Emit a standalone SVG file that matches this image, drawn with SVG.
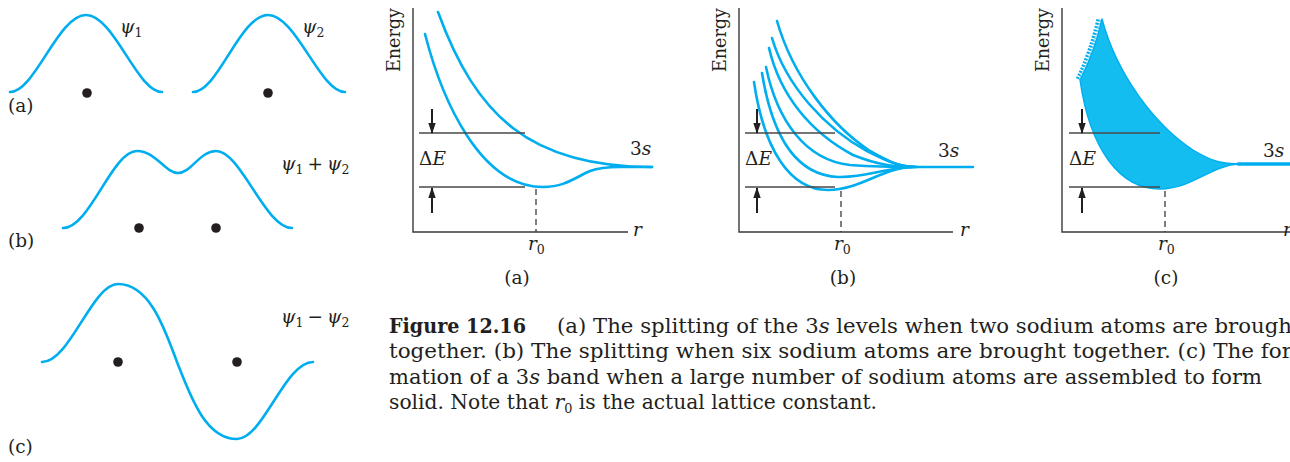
<svg xmlns="http://www.w3.org/2000/svg" width="1290" height="462" viewBox="0 0 1290 462">
<defs>
<style>
.c{fill:none;stroke:#00AEEF;stroke-width:2.6;stroke-linecap:round;stroke-linejoin:round}
.dot{fill:#231f20}
.ax{fill:none;stroke:#3a3a3a;stroke-width:1.4}
.lv{fill:none;stroke:#4a4a4a;stroke-width:1.4}
.ds{fill:none;stroke:#3a3a3a;stroke-width:1.3;stroke-dasharray:6 4}
.ar{fill:none;stroke:#231f20;stroke-width:2;marker-end:url(#ah)}
text{font-family:"DejaVu Serif","Liberation Serif",serif;fill:#231f20}
.lb{font-size:18.5px}
.en{font-size:18.5px}
.it{font-style:italic}
.sub{font-size:12.5px;font-style:normal}
.cap{font-size:20.5px}
</style>
<marker id="ah" markerWidth="11" markerHeight="10" refX="10" refY="5" orient="auto" markerUnits="userSpaceOnUse">
<path d="M0,1.3 L11,5 L0,8.7 Z" fill="#231f20"/>
</marker>
</defs>
<rect width="1290" height="462" fill="#ffffff"/>

<g id="wave-a">
<path class="c" d="M10,92 C35,92 58,15 86,15 C114,15 137,92 162,92"/>
<path class="c" d="M193,92 C218,92 240,15 268,15 C296,15 320,92 345,92"/>
<circle class="dot" cx="87" cy="93" r="4.8"/>
<circle class="dot" cx="268" cy="93" r="4.8"/>
<text class="lb" x="120" y="33"><tspan class="it">ψ</tspan><tspan class="sub" dy="4">1</tspan></text>
<text class="lb" x="302" y="33"><tspan class="it">ψ</tspan><tspan class="sub" dy="4">2</tspan></text>
<text class="lb" x="8" y="112">(a)</text>
</g>

<g id="wave-b">
<path class="c" d="M63,228 C90,228 112,151 137,151 C156,151 165,173 178,173 C191,173 200,151 216,151 C241,151 265,228 292,228"/>
<circle class="dot" cx="139" cy="228" r="4.8"/>
<circle class="dot" cx="216" cy="228" r="4.8"/>
<text class="lb" x="281" y="170"><tspan class="it">ψ</tspan><tspan class="sub" dy="4">1</tspan><tspan dx="4" dy="-4">+</tspan><tspan class="it" dx="4">ψ</tspan><tspan class="sub" dy="4">2</tspan></text>
<text class="lb" x="8" y="247">(b)</text>
</g>

<g id="wave-c">
<path class="c" d="M42,362 C70,362 92,284 118,284 C150,284 165,330 177,362 C190,395 205,439 237,439 C263,439 285,362 313,362"/>
<circle class="dot" cx="118" cy="362" r="4.8"/>
<circle class="dot" cx="237" cy="362" r="4.8"/>
<text class="lb" x="281" y="323"><tspan class="it">ψ</tspan><tspan class="sub" dy="4">1</tspan><tspan dx="4" dy="-4">−</tspan><tspan class="it" dx="4">ψ</tspan><tspan class="sub" dy="4">2</tspan></text>
<text class="lb" x="8" y="453">(c)</text>
</g>

<g id="plot-a">
<path class="ax" d="M413,8 V232 H628"/>
<text class="lb it" x="633" y="236">r</text>
<text class="en" transform="translate(400,72) rotate(-90)" textLength="64" lengthAdjust="spacingAndGlyphs">Energy</text>
<path class="c" d="M438,12 C476,116 530,167 652,167"/>
<path class="c" d="M425,34 C442,100 480,187 543,187 C565,187 576,177 590,171 C598,168 605,167 620,167 L652,167"/>
<path class="lv" d="M419,133 H525 M419,187 H525"/>
<path class="ar" d="M432,109 V133"/>
<path class="ar" d="M432,213 V188"/>
<text class="lb" x="419" y="165">Δ<tspan class="it">E</tspan></text>
<text class="lb" x="630" y="155">3<tspan class="it">s</tspan></text>
<path class="ds" d="M536,189 V232"/>
<text class="lb it" x="528" y="250">r<tspan class="sub" dy="4">0</tspan></text>
<text class="lb" x="517" y="284" text-anchor="middle">(a)</text>
</g>

<g id="plot-b">
<path class="ax" d="M739,8 V232 H953"/>
<text class="lb it" x="960" y="236">r</text>
<text class="en" transform="translate(726,72) rotate(-90)" textLength="64" lengthAdjust="spacingAndGlyphs">Energy</text>
<path class="c" d="M777,21 C793,77 832,126 870,151 C889,162 900,167 917,167 L973,167"/>
<path class="c" d="M772,38 C786,86 826,129 867,151 C887,161 899,167 917,167"/>
<path class="c" d="M769,48 C780,95 810,132 853,155 C878,165 895,167 915,167"/>
<path class="c" d="M766,67 C777,120 805,160 850,165 C880,167 895,167 915,167"/>
<path class="c" d="M762,73 C772,135 795,175 838,177 C865,178 885,168 912,167"/>
<path class="c" d="M754,82 C764,150 790,190 828,190 C860,190 882,168 912,167"/>
<path class="lv" d="M745,133 H835 M745,187 H835"/>
<path class="ar" d="M757,109 V133"/>
<path class="ar" d="M757,213 V188"/>
<text class="lb" x="745" y="165">Δ<tspan class="it">E</tspan></text>
<text class="lb" x="938" y="157">3<tspan class="it">s</tspan></text>
<path class="ds" d="M841,191 V232"/>
<text class="lb it" x="834" y="250">r<tspan class="sub" dy="4">0</tspan></text>
<text class="lb" x="843" y="284" text-anchor="middle">(b)</text>
</g>

<g id="plot-c">
<path class="ax" d="M1062,8 V232 H1290"/>
<text class="lb it" x="1283" y="236">r</text>
<text class="en" transform="translate(1049,72) rotate(-90)" textLength="64" lengthAdjust="spacingAndGlyphs">Energy</text>
<path d="M1102,19 C1117,75 1155,125 1193,150 C1213,162 1223,164 1240,164 L1238,164 C1210,166 1192,189 1160,189 C1120,189 1090,150 1080,80 Q1094,54 1102,19 Z" fill="#14BDF0" stroke="#00AEEF" stroke-width="1.4" stroke-linejoin="round"/>
<path d="M1078,79 Q1091,52 1099,18" fill="none" stroke="#00AEEF" stroke-width="4.5" stroke-dasharray="2 1.4"/>
<path d="M1079.5,79 Q1092.5,52 1100.5,18" fill="none" stroke="#ffffff" stroke-width="1" stroke-dasharray="1 2.4"/>
<path class="c" d="M1238,164 H1290" style="stroke-width:3.4"/>
<path class="lv" d="M1069,133 H1160 M1069,187 H1160"/>
<path class="ar" d="M1082,109 V133"/>
<path class="ar" d="M1082,213 V188"/>
<text class="lb" x="1069" y="165">Δ<tspan class="it">E</tspan></text>
<text class="lb" x="1263" y="157">3<tspan class="it">s</tspan></text>
<path class="ds" d="M1165,191 V232"/>
<text class="lb it" x="1158" y="250">r<tspan class="sub" dy="4">0</tspan></text>
<text class="lb" x="1166" y="284" text-anchor="middle">(c)</text>
</g>

<g id="caption">
<text class="cap" x="389" y="333" font-weight="bold" textLength="137" lengthAdjust="spacingAndGlyphs">Figure 12.16</text>
<text class="cap" x="557" y="333" textLength="735" lengthAdjust="spacingAndGlyphs">(a) The splitting of the 3<tspan class="it">s</tspan> levels when two sodium atoms are brough</text>
<text class="cap" x="389" y="358" textLength="903" lengthAdjust="spacingAndGlyphs">together. (b) The splitting when six sodium atoms are brought together. (c) The for</text>
<text class="cap" x="389" y="384" textLength="873" lengthAdjust="spacingAndGlyphs">mation of a 3<tspan class="it">s</tspan> band when a large number of sodium atoms are assembled to form</text>
<text class="cap" x="389" y="409" textLength="488" lengthAdjust="spacingAndGlyphs">solid. Note that <tspan class="it">r</tspan><tspan font-size="13" dy="4">0</tspan><tspan dy="-4"> is the actual lattice constant.</tspan></text>
</g>
</svg>
